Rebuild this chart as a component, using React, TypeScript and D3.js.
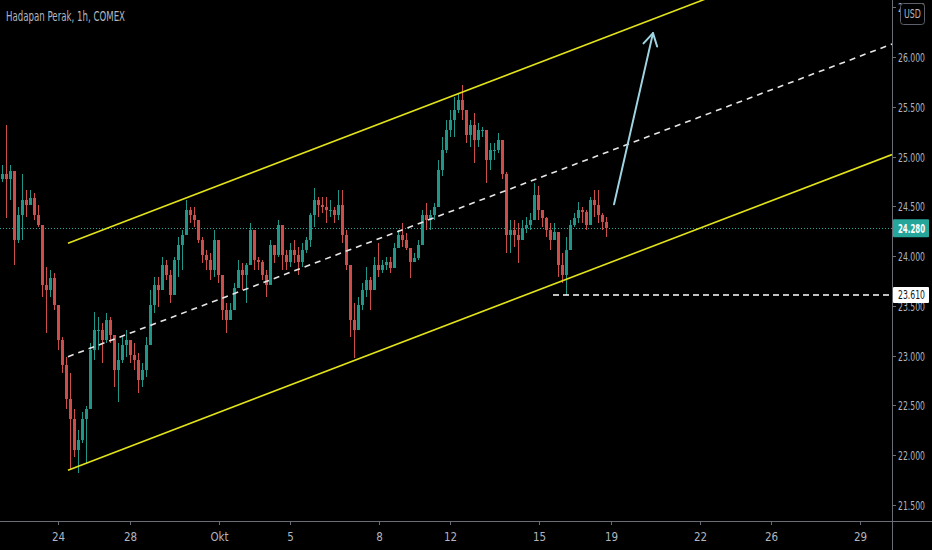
import React, { useEffect, useRef } from 'react';
import * as d3 from 'd3';

const width = 932;
const height = 550;
const plotW = 892;
const plotH = 521;

const title = 'Hadapan Perak, 1h, COMEX';
const firstOpen = 24.77;

// hourly candles (one entry per drawn bar), oldest first
const highs = [
  24.92, 25.32, 24.92, 24.80, 24.49, 24.82, 24.66, 24.66, 24.63, 24.51,
  24.29, 23.89, 23.86, 23.83, 23.39, 23.19, 22.99, 22.83, 22.46, 22.25,
  22.43, 22.49, 23.13, 23.44, 23.39, 23.33, 23.43, 23.39, 23.19, 23.13,
  23.19, 23.26, 23.16, 23.13, 23.03, 22.93, 23.19, 23.66, 23.79, 23.79,
  23.99, 23.96, 23.86, 23.99, 24.19, 24.26, 24.56, 24.49, 24.49, 24.36,
  24.19, 24.06, 24.03, 24.26, 24.09, 23.76, 23.53, 23.53, 23.73, 23.96,
  23.93, 23.93, 24.33, 24.26, 23.99, 23.96, 23.86, 24.16, 24.09, 24.36,
  24.26, 24.06, 24.13, 24.16, 24.09, 24.13, 24.19, 24.43, 24.68, 24.59,
  24.59, 24.59, 24.56, 24.49, 24.66, 24.66, 24.26, 23.89, 23.53, 23.59,
  23.73, 23.89, 23.79, 23.99, 24.13, 23.96, 23.99, 23.99, 24.13, 24.26,
  24.33, 24.23, 24.06, 24.03, 24.16, 24.46, 24.53, 24.46, 24.53, 24.97,
  25.20, 25.37, 25.47, 25.60, 25.64, 25.72, 25.47, 25.37, 25.44, 25.34,
  25.30, 25.27, 25.14, 25.14, 25.24, 25.17, 24.84, 24.36, 24.36, 24.33,
  24.36, 24.39, 24.43, 24.73, 24.70, 24.46, 24.39, 24.33, 24.33, 24.19,
  24.03, 24.19, 24.36, 24.43, 24.54, 24.49, 24.46, 24.59, 24.66, 24.66,
  24.43, 24.39,
];
const lows = [
  24.74, 24.38, 24.56, 23.91, 24.13, 24.16, 24.39, 24.53, 24.36, 24.29,
  23.59, 23.23, 23.59, 23.46, 23.06, 22.83, 22.46, 21.85, 21.98, 21.82,
  22.12, 21.92, 22.53, 22.96, 23.06, 22.93, 23.13, 23.13, 22.69, 22.53,
  22.93, 22.99, 22.93, 22.86, 22.63, 22.69, 22.79, 23.16, 23.43, 23.49,
  23.66, 23.76, 23.53, 23.73, 23.79, 23.86, 24.26, 24.33, 24.29, 24.13,
  23.93, 23.86, 23.76, 23.79, 23.73, 23.36, 23.23, 23.36, 23.59, 23.76,
  23.66, 23.53, 24.03, 23.86, 23.86, 23.76, 23.59, 23.93, 23.93, 23.99,
  23.86, 23.86, 23.89, 23.93, 23.81, 23.89, 24.03, 24.09, 24.29, 24.39,
  24.43, 24.33, 24.39, 24.33, 24.36, 24.13, 23.86, 23.19, 22.98, 23.26,
  23.46, 23.59, 23.46, 23.69, 23.79, 23.83, 23.86, 23.83, 23.96, 24.09,
  24.09, 24.06, 23.78, 23.96, 23.96, 24.19, 24.26, 24.26, 24.36, 24.53,
  24.80, 25.04, 25.20, 25.20, 25.44, 25.37, 25.14, 25.10, 24.94, 25.10,
  25.20, 24.73, 24.87, 24.97, 25.04, 24.77, 24.03, 24.03, 24.09, 23.93,
  24.16, 24.23, 24.26, 24.43, 24.36, 24.29, 24.19, 24.06, 24.16, 23.79,
  23.73, 23.61, 24.16, 24.29, 24.33, 24.33, 24.26, 24.43, 24.39, 24.33,
  24.26, 24.19,
];
const closes = [
  24.82, 24.77, 24.85, 24.16, 24.41, 24.56, 24.51, 24.58, 24.41, 24.31,
  23.71, 23.66, 23.78, 23.51, 23.16, 22.91, 22.56, 22.36, 22.05, 22.15,
  22.36, 22.46, 23.06, 23.26, 23.26, 23.16, 23.36, 23.21, 22.86, 22.96,
  23.11, 23.16, 23.01, 22.96, 22.76, 22.86, 23.11, 23.51, 23.71, 23.66,
  23.91, 23.81, 23.61, 23.96, 24.11, 24.21, 24.46, 24.41, 24.36, 24.16,
  24.01, 23.96, 23.86, 24.16, 23.81, 23.46, 23.36, 23.46, 23.68, 23.86,
  23.81, 23.91, 24.26, 23.96, 23.94, 23.81, 23.71, 24.11, 24.01, 24.31,
  24.01, 23.94, 24.06, 24.01, 23.94, 24.06, 24.16, 24.41, 24.56, 24.51,
  24.49, 24.46, 24.46, 24.41, 24.51, 24.21, 23.91, 23.36, 23.26, 23.51,
  23.66, 23.76, 23.66, 23.91, 23.86, 23.91, 23.94, 23.88, 24.08, 24.21,
  24.16, 24.08, 23.94, 23.98, 24.11, 24.41, 24.36, 24.41, 24.49, 24.87,
  25.07, 25.27, 25.37, 25.47, 25.57, 25.47, 25.22, 25.32, 25.17, 25.27,
  25.27, 24.97, 25.07, 25.07, 25.17, 24.82, 24.21, 24.26, 24.21, 24.16,
  24.28, 24.31, 24.36, 24.61, 24.46, 24.38, 24.26, 24.16, 24.24, 23.91,
  23.81, 24.06, 24.31, 24.38, 24.46, 24.44, 24.31, 24.56, 24.51, 24.41,
  24.34, 24.28,
];

const yTicks = [21.5, 22, 22.5, 23, 23.5, 24, 24.5, 25, 25.5, 26, 26.5];
const xTickLabels = ['24', '28', 'Okt', '5', '8', '12', '15', '19', '22', '26', '29'];
const xTickBars = [14, 32, 54.25, 72, 94.25, 112, 134.25, 152.25, 174.5, 192.25, 214.5];

const lastPrice = 24.28;
const supportPrice = 23.61;
const supportFrom = 137.75;

// drawings: [bar, price]
const channelUpper: [number, number][] = [[16.5, 24.13], [222.5, 27.30]];
const channelMid: [number, number][] = [[16.5, 22.99], [222.5, 26.13]];
const channelLower: [number, number][] = [[16.5, 21.85], [222.5, 25.02]];
const arrowPts: [number, number][] = [[153, 24.52], [162.75, 26.24]];

const font = "'Liberation Sans Narrow', 'DejaVu Sans Condensed', sans-serif";

const App: React.FC = () => {
  const ref = useRef<SVGSVGElement | null>(null);

  useEffect(() => {
    const svg = d3.select(ref.current)
      .attr('width', width)
      .attr('height', height);
    svg.selectAll('*').remove();

    svg.append('rect').attr('width', width).attr('height', height).attr('fill', '#000');

    const x = d3.scaleLinear().domain([-0.5, 222.5]).range([0, plotW]);
    const y = d3.scaleLinear().domain([21.3395, 26.5725]).range([plotH, 0]);

    svg.append('clipPath').attr('id', 'plot-clip')
      .append('rect').attr('width', plotW).attr('height', plotH);

    const plot = svg.append('g').attr('clip-path', 'url(#plot-clip)');

    // last price dotted line
    plot.append('line')
      .attr('x1', 0).attr('x2', plotW)
      .attr('y1', Math.round(y(lastPrice)) + 0.5).attr('y2', Math.round(y(lastPrice)) + 0.5)
      .attr('stroke', '#26a69a').attr('stroke-width', 1)
      .attr('stroke-dasharray', '1,2');

    // candles
    const bars = closes.map((c, i) => ({
      i,
      o: i === 0 ? firstOpen : closes[i - 1],
      h: highs[i],
      l: lows[i],
      c,
    }));
    const up = '#1f9688';
    const down = '#cc4e4a';
    const cg = plot.append('g').attr('shape-rendering', 'crispEdges');
    cg.selectAll('line.wick').data(bars).join('line')
      .attr('class', 'wick')
      .attr('x1', d => Math.round(x(d.i)) + 0.5)
      .attr('x2', d => Math.round(x(d.i)) + 0.5)
      .attr('y1', d => y(Math.max(d.h, d.o, d.c)))
      .attr('y2', d => y(Math.min(d.l, d.o, d.c)))
      .attr('stroke', d => (d.c >= d.o ? up : down))
      .attr('stroke-width', 1);
    cg.selectAll('rect.body').data(bars).join('rect')
      .attr('class', 'body')
      .attr('x', d => Math.round(x(d.i)) - 1)
      .attr('width', 3)
      .attr('y', d => y(Math.max(d.o, d.c)))
      .attr('height', d => Math.max(1, Math.abs(y(d.o) - y(d.c))))
      .attr('fill', d => (d.c >= d.o ? up : down));

    // channel
    const line = d3.line<[number, number]>().x(d => x(d[0])).y(d => y(d[1]));
    plot.append('path').datum(channelUpper).attr('d', line)
      .attr('fill', 'none').attr('stroke', '#e3e31a').attr('stroke-width', 1.6);
    plot.append('path').datum(channelLower).attr('d', line)
      .attr('fill', 'none').attr('stroke', '#e3e31a').attr('stroke-width', 1.6);
    plot.append('path').datum(channelMid).attr('d', line)
      .attr('fill', 'none').attr('stroke', '#e6e6e6').attr('stroke-width', 1.6)
      .attr('stroke-dasharray', '6,5');

    // support level
    plot.append('line')
      .attr('x1', x(supportFrom)).attr('x2', plotW)
      .attr('y1', y(supportPrice)).attr('y2', y(supportPrice))
      .attr('stroke', '#fff').attr('stroke-width', 1.5)
      .attr('stroke-dasharray', '6,4');

    // arrow
    const [ax0, ay0] = [x(arrowPts[0][0]), y(arrowPts[0][1])];
    const [ax1, ay1] = [x(arrowPts[1][0]), y(arrowPts[1][1])];
    const back = Math.atan2(ay0 - ay1, ax0 - ax1);
    const head = 14;
    const spread = (30 * Math.PI) / 180;
    const arrowColor = '#9fd4e2';
    plot.append('line')
      .attr('x1', ax0).attr('y1', ay0).attr('x2', ax1).attr('y2', ay1)
      .attr('stroke', arrowColor).attr('stroke-width', 2).attr('stroke-linecap', 'round');
    plot.append('path')
      .attr('d', `M${ax1 + head * Math.cos(back + spread)},${ay1 + head * Math.sin(back + spread)}L${ax1},${ay1}L${ax1 + head * Math.cos(back - spread)},${ay1 + head * Math.sin(back - spread)}`)
      .attr('fill', 'none').attr('stroke', arrowColor).attr('stroke-width', 2)
      .attr('stroke-linecap', 'round').attr('stroke-linejoin', 'round');

    // axes frame
    const axisColor = '#6a6d78';
    svg.append('line').attr('x1', plotW + 0.5).attr('x2', plotW + 0.5).attr('y1', 0).attr('y2', height)
      .attr('stroke', axisColor);
    svg.append('line').attr('x1', 0).attr('x2', width).attr('y1', plotH + 0.5).attr('y2', plotH + 0.5)
      .attr('stroke', axisColor);

    const textColor = '#b2b5be';
    const fmt = d3.format('.3f');
    const labelLen = 27;
    const labelSize = 12.5;

    // price scale
    const yAxis = svg.append('g');
    yTicks.forEach(t => {
      const yy = Math.round(y(t)) + 0.5;
      yAxis.append('line').attr('x1', plotW).attr('x2', plotW + 4).attr('y1', yy).attr('y2', yy)
        .attr('stroke', axisColor);
      yAxis.append('text').attr('x', plotW + 6).attr('y', yy).attr('dy', '0.35em')
        .attr('fill', textColor).attr('font-family', font).attr('font-size', labelSize)
        .attr('textLength', labelLen).attr('lengthAdjust', 'spacingAndGlyphs')
        .text(fmt(t));
    });

    // time scale
    const xAxis = svg.append('g');
    xTickBars.forEach((b, k) => {
      const xx = Math.round(x(b)) + 0.5;
      xAxis.append('line').attr('x1', xx).attr('x2', xx).attr('y1', plotH).attr('y2', plotH + 4)
        .attr('stroke', axisColor);
      xAxis.append('text').attr('x', xx).attr('y', plotH + 20)
        .attr('text-anchor', 'middle')
        .attr('fill', textColor).attr('font-family', font).attr('font-size', 11.5)
        .text(xTickLabels[k]);
    });

    // price labels
    const lastY = y(lastPrice);
    svg.append('rect').attr('x', plotW + 1).attr('y', lastY - 9).attr('width', width - plotW - 4).attr('height', 18)
      .attr('fill', '#26a69a').attr('rx', 1);
    svg.append('text').attr('x', plotW + 6).attr('y', lastY).attr('dy', '0.35em')
      .attr('fill', '#fff').attr('font-family', font).attr('font-size', labelSize).attr('font-weight', 'bold')
      .attr('textLength', labelLen).attr('lengthAdjust', 'spacingAndGlyphs')
      .text(fmt(lastPrice));

    const supY = y(supportPrice);
    svg.append('rect').attr('x', plotW + 1).attr('y', supY - 8).attr('width', width - plotW - 4).attr('height', 16)
      .attr('fill', '#fff').attr('rx', 1);
    svg.append('text').attr('x', plotW + 6).attr('y', supY).attr('dy', '0.35em')
      .attr('fill', '#131722').attr('font-family', font).attr('font-size', labelSize)
      .attr('textLength', labelLen).attr('lengthAdjust', 'spacingAndGlyphs')
      .text(fmt(supportPrice));

    // currency badge
    svg.append('rect').attr('x', 900.5).attr('y', 3.5).attr('width', 24).attr('height', 21).attr('rx', 3)
      .attr('fill', '#000').attr('stroke', '#5d606b');
    svg.append('text').attr('x', 912.5).attr('y', 14).attr('dy', '0.35em').attr('text-anchor', 'middle')
      .attr('fill', textColor).attr('font-family', font).attr('font-size', 11.5)
      .attr('textLength', 17).attr('lengthAdjust', 'spacingAndGlyphs')
      .text('USD');

    // title
    svg.append('text').attr('x', 6).attr('y', 21)
      .attr('fill', textColor).attr('font-family', font).attr('font-size', 13.5)
      .attr('textLength', 119).attr('lengthAdjust', 'spacingAndGlyphs')
      .text(title);
  }, []);

  return <svg ref={ref} style={{ position: 'absolute', left: 0, top: 0, display: 'block' }}></svg>;
};

export default App;
